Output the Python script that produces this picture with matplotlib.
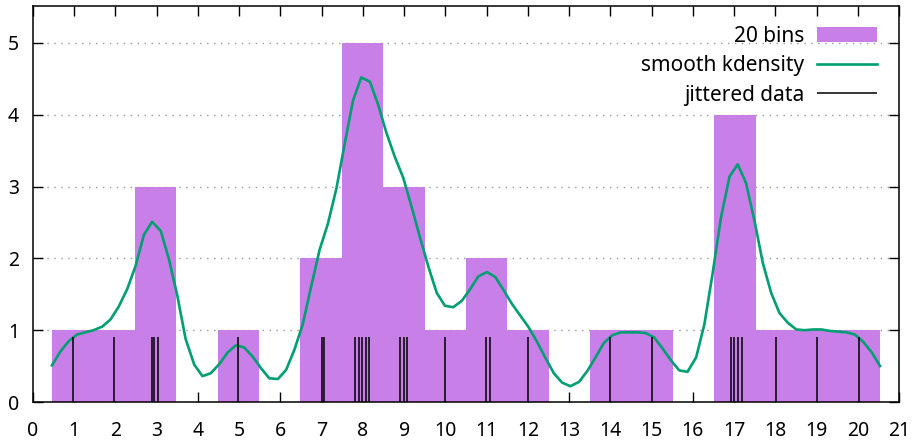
import numpy as np
import matplotlib
matplotlib.use('Agg')
from matplotlib import pyplot as plt

plt.rcParams['font.family'] = ['Noto Sans', 'DejaVu Sans']

# jittered data points
data = [0.96, 1.96, 2.875, 2.935, 3.035, 4.976, 6.996, 7.056, 7.812, 7.902,
        7.982, 8.071, 8.151, 8.898, 8.987, 9.067, 9.992, 10.988, 11.078,
        11.993, 14.004, 15.009, 16.93, 17.01, 17.10, 17.19, 18.015, 19.02,
        20.03]

kde_x = [0.46, 0.66, 0.87, 1.07, 1.27, 1.47, 1.68, 1.88, 2.08, 2.29, 2.49,
         2.69, 2.89, 3.10, 3.30, 3.50, 3.70, 3.91, 4.11, 4.31, 4.52, 4.72,
         4.92, 5.12, 5.33, 5.53, 5.73, 5.94, 6.14, 6.34, 6.54, 6.75, 6.95,
         7.15, 7.36, 7.56, 7.76, 7.96, 8.17, 8.37, 8.57, 8.77, 8.98, 9.18,
         9.38, 9.59, 9.79, 9.99, 10.19, 10.40, 10.60, 10.80, 11.01, 11.21,
         11.41, 11.61, 11.82, 12.02, 12.22, 12.43, 12.63, 12.83, 13.03,
         13.24, 13.44, 13.64, 13.84, 14.05, 14.25, 14.45, 14.66, 14.86,
         15.06, 15.26, 15.47, 15.67, 15.87, 16.08, 16.28, 16.48, 16.68,
         16.89, 17.09, 17.29, 17.50, 17.70, 17.90, 18.10, 18.31, 18.51,
         18.71, 18.92, 19.12, 19.32, 19.52, 19.73, 19.93, 20.13, 20.34, 20.54]
kde_y = [0.51, 0.70, 0.85, 0.94, 0.97, 1.00, 1.05, 1.15, 1.33, 1.58, 1.90,
         2.33, 2.51, 2.38, 1.98, 1.48, 0.88, 0.52, 0.36, 0.40, 0.53, 0.69,
         0.79, 0.76, 0.63, 0.47, 0.33, 0.32, 0.45, 0.73, 1.08, 1.62, 2.12,
         2.48, 2.98, 3.60, 4.20, 4.52, 4.46, 4.14, 3.75, 3.42, 3.12, 2.72,
         2.30, 1.88, 1.52, 1.34, 1.32, 1.41, 1.57, 1.75, 1.81, 1.74,
         1.56, 1.37, 1.20, 1.04, 0.84, 0.61, 0.40, 0.27, 0.22,
         0.28, 0.43, 0.62, 0.82, 0.93, 0.97, 0.97, 0.97, 0.96,
         0.90, 0.75, 0.58, 0.44, 0.42, 0.62, 1.08, 1.79, 2.56,
         3.14, 3.31, 3.05, 2.51, 1.93, 1.52, 1.24, 1.10, 1.01,
         1.00, 1.01, 1.01, 0.99, 0.98, 0.97, 0.94, 0.84, 0.69, 0.50]

n_bins = 20
bin_lo, bin_hi = 0.46, 20.54
rug_height = 0.9

fig = plt.figure(figsize=(9.16, 4.42), dpi=100)
ax = fig.add_axes([33/916, 1-402/442, (899-33)/916, (402-6)/442])
ax.set_axisbelow(True)

edges = np.linspace(bin_lo, bin_hi, n_bins + 1)
ax.hist(data, bins=edges, color='#c880e8', label='20 bins', zorder=1)
ax.plot(kde_x, kde_y, color='#009e73', lw=1.9, label='smooth kdensity', zorder=3)
ax.vlines(data, 0, rug_height, color='black', lw=1.1, label='jittered data', zorder=4)

ax.set_xlim(0, 21)
ax.set_ylim(0, 5.515)
ax.set_xticks(range(0, 22))
ax.set_yticks(range(0, 6))
ax.tick_params(direction='in', length=7, width=1, top=True, right=True,
               labelsize=14)
ax.tick_params(axis='x', pad=14)
ax.tick_params(axis='y', pad=10)
ax.yaxis.grid(True, linestyle=(0, (1, 4)), color='#999999', lw=1)
for s in ax.spines.values():
    s.set_linewidth(1.1)

ax.legend(loc='upper right', frameon=False, markerfirst=False, fontsize=15,
          handlelength=2.9, handleheight=0.7, labelspacing=0.4,
          handletextpad=0.6, borderaxespad=0, borderpad=0,
          bbox_to_anchor=((877-33)/866, 1-20/396))

fig.savefig('out.png', dpi=100)
